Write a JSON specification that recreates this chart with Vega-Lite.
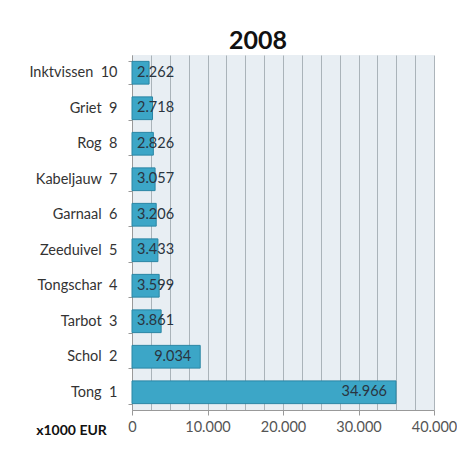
{
  "$schema": "https://vega.github.io/schema/vega-lite/v6.json",
  "width": 302,
  "height": 355,
  "autosize": "none",
  "padding": {"left": 132, "top": 55, "right": 23, "bottom": 39},
  "background": "white",
  "title": {"text": "2008", "fontSize": 25, "font": "Lato", "fontWeight": "bold", "color": "#111", "anchor": "middle", "dx": -25, "dy": 30, "baseline": "alphabetic", "offset": 3},
  "config": {
    "locale": {"number": {"decimal": ",", "thousands": ".", "grouping": [3], "currency": ["€", ""]}},
    "view": {"fill": "#e8eef3", "stroke": null},
    "font": "Lato"
  },
  "data": {"values": [
    {"label": "Inktvissen\u00a0\u00a010", "rank": 10, "value": 2262},
    {"label": "Griet\u00a0\u00a09", "rank": 9, "value": 2718},
    {"label": "Rog\u00a0\u00a08", "rank": 8, "value": 2826},
    {"label": "Kabeljauw\u00a0\u00a07", "rank": 7, "value": 3057},
    {"label": "Garnaal\u00a0\u00a06", "rank": 6, "value": 3206},
    {"label": "Zeeduivel\u00a0\u00a05", "rank": 5, "value": 3433},
    {"label": "Tongschar\u00a0\u00a04", "rank": 4, "value": 3599},
    {"label": "Tarbot\u00a0\u00a03", "rank": 3, "value": 3861},
    {"label": "Schol\u00a0\u00a02", "rank": 2, "value": 9034},
    {"label": "Tong\u00a0\u00a01", "rank": 1, "value": 34966}
  ]},
  "encoding": {
    "y": {"field": "label", "type": "nominal",
      "sort": ["Inktvissen\u00a0\u00a010", "Griet\u00a0\u00a09", "Rog\u00a0\u00a08", "Kabeljauw\u00a0\u00a07", "Garnaal\u00a0\u00a06", "Zeeduivel\u00a0\u00a05", "Tongschar\u00a0\u00a04", "Tarbot\u00a0\u00a03", "Schol\u00a0\u00a02", "Tong\u00a0\u00a01"],
      "scale": {"paddingInner": 0.36, "paddingOuter": 0.18},
      "axis": {"title": null, "labelFontSize": 14.5, "labelColor": "#333", "labelPadding": 11, "tickSize": 4, "tickBand": "extent", "tickColor": "#999", "domainColor": "#999"}},
    "x": {"field": "value", "type": "quantitative",
      "scale": {"domain": [0, 40000], "nice": false},
      "axis": {"values": [0,2500,5000,7500,10000,12500,15000,17500,20000,22500,25000,27500,30000,32500,35000,37500,40000],
        "labelExpr": "datum.value % 10000 == 0 ? datum.label : ''",
        "format": ",d",
        "labelFontSize": 14.5, "labelColor": "#555", "labelPadding": 5, "tickSize": 5,
        "tickOpacity": {"condition": {"test": "datum.value % 10000 != 0", "value": 0}, "value": 1},
        "tickColor": "#999", "domainColor": "#999",
        "gridColor": "#a3abb2", "gridWidth": 0.9,
        "title": "x1000 EUR", "titleFontSize": 14, "titleFontWeight": "bold", "titleColor": "#111",
        "titleX": -61, "titleY": 20, "titleAlign": "center", "titleBaseline": "middle", "labelFlush": false}}
  },
  "layer": [
    {"mark": {"type": "bar", "color": "#3ca6c7", "stroke": "#2a86a4", "strokeWidth": 1}},
    {"transform": [{"filter": "datum.value > 5000"}],
     "mark": {"type": "text", "align": "right", "dx": -9, "fontSize": 14.5, "color": "#2a3440"},
     "encoding": {"text": {"field": "value", "type": "quantitative", "format": ",d"}}},
    {"transform": [{"filter": "datum.value <= 5000"}],
     "mark": {"type": "text", "align": "left", "dx": 5, "fontSize": 14.5, "color": "#2a3440"},
     "encoding": {"x": {"datum": 0, "type": "quantitative"}, "text": {"field": "value", "type": "quantitative", "format": ",d"}}}
  ]
}
